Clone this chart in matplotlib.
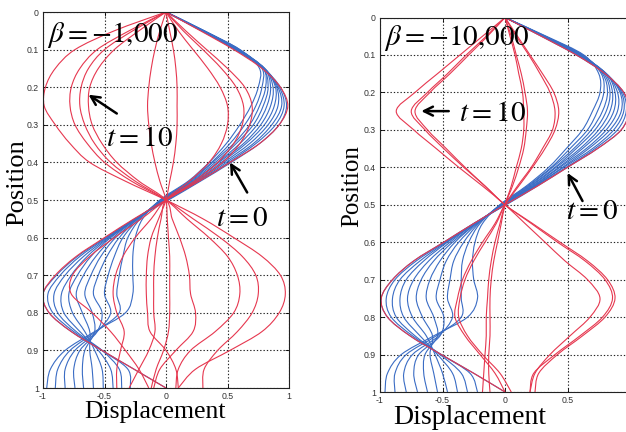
import numpy as np
import matplotlib
matplotlib.use("Agg")
import matplotlib.pyplot as plt
from matplotlib.path import Path
from matplotlib.patches import PathPatch

plt.rcParams["mathtext.fontset"] = "stix"

# Positions along the string at which every snapshot is sampled
position = [0.00, 0.05, 0.10, 0.15, 0.20, 0.25, 0.30, 0.35, 0.40, 0.45, 0.50,
            0.55, 0.60, 0.65, 0.70, 0.75, 0.80, 0.85, 0.90, 0.95, 1.00]

# ---- beta = -1,000 ----------------------------------------------------------
# Early snapshots (blue): one row per position, one column per snapshot
blue_left_by_pos = [
    [0.00, 0.00, 0.00, 0.00, 0.00, 0.00, 0.00, 0.00, 0.00, 0.00, 0.00],
    [0.29, 0.29, 0.29, 0.30, 0.30, 0.30, 0.30, 0.31, 0.31, 0.31, 0.31],
    [0.56, 0.57, 0.57, 0.58, 0.58, 0.58, 0.59, 0.59, 0.59, 0.60, 0.60],
    [0.79, 0.79, 0.80, 0.80, 0.80, 0.80, 0.80, 0.79, 0.79, 0.78, 0.76],
    [0.93, 0.92, 0.91, 0.90, 0.89, 0.87, 0.85, 0.83, 0.81, 0.78, 0.75],
    [0.98, 0.96, 0.94, 0.91, 0.88, 0.85, 0.82, 0.79, 0.76, 0.73, 0.69],
    [0.92, 0.89, 0.86, 0.83, 0.80, 0.77, 0.74, 0.71, 0.68, 0.64, 0.60],
    [0.76, 0.73, 0.71, 0.68, 0.65, 0.63, 0.60, 0.57, 0.55, 0.52, 0.49],
    [0.53, 0.51, 0.49, 0.47, 0.45, 0.43, 0.42, 0.40, 0.38, 0.37, 0.35],
    [0.28, 0.27, 0.26, 0.25, 0.24, 0.23, 0.22, 0.21, 0.20, 0.19, 0.18],
    [0.02, 0.01, 0.00, -0.01, -0.02, -0.02, -0.03, -0.03, -0.04, -0.04, -0.05],
    [-0.25, -0.25, -0.25, -0.24, -0.24, -0.24, -0.23, -0.23, -0.22, -0.21, -0.19],
    [-0.49, -0.48, -0.47, -0.46, -0.45, -0.43, -0.41, -0.38, -0.35, -0.31, -0.25],
    [-0.72, -0.70, -0.67, -0.64, -0.61, -0.57, -0.53, -0.48, -0.42, -0.35, -0.27],
    [-0.89, -0.86, -0.82, -0.77, -0.72, -0.67, -0.61, -0.55, -0.47, -0.38, -0.27],
    [-1.00, -0.96, -0.91, -0.85, -0.79, -0.73, -0.66, -0.59, -0.50, -0.40, -0.27],
    [-0.95, -0.92, -0.88, -0.83, -0.76, -0.68, -0.60, -0.52, -0.45, -0.38, -0.33],
    [-0.77, -0.75, -0.73, -0.70, -0.66, -0.62, -0.58, -0.56, -0.56, -0.57, -0.58],
    [-0.52, -0.52, -0.52, -0.55, -0.58, -0.62, -0.66, -0.70, -0.74, -0.78, -0.82],
    [-0.26, -0.31, -0.38, -0.45, -0.52, -0.60, -0.68, -0.75, -0.82, -0.88, -0.94],
    [0.00, -0.29, -0.36, -0.43, -0.51, -0.59, -0.67, -0.74, -0.82, -0.90, -0.97],
]

# Late snapshots (red): one list per snapshot
red_left = [
    [0, 0.28, 0.55, 0.78, 0.93, 0.99, 0.92, 0.76, 0.52, 0.27, 0.00,
     -0.26, -0.50, -0.73, -0.90, -1.00, -0.95, -0.77, -0.52, -0.26, 0.00],
    [0, -0.42, -0.74, -0.90, -0.98, -0.99, -0.90, -0.78, -0.62, -0.33, 0.00,
     0.30, 0.55, 0.78, 0.93, 0.97, 0.92, 0.78, 0.52, 0.24, 0.10],
    [0, -0.30, -0.56, -0.70, -0.77, -0.78, -0.74, -0.64, -0.50, -0.28, 0.00,
     0.22, 0.44, 0.62, 0.73, 0.75, 0.70, 0.58, 0.42, 0.31, 0.30],
    [0, -0.27, -0.50, -0.63, -0.69, -0.70, -0.66, -0.58, -0.45, -0.25, 0.00,
     0.17, 0.35, 0.50, 0.58, 0.60, 0.55, 0.40, 0.20, 0.10, 0.08],
    [0, -0.22, -0.42, -0.55, -0.62, -0.63, -0.60, -0.52, -0.40, -0.22, 0.00,
     0.05, 0.11, 0.16, 0.19, 0.20, 0.24, 0.22, 0.08, -0.05, -0.10],
    [0, -0.05, -0.09, -0.12, -0.14, -0.15, -0.14, -0.12, -0.09, -0.05, 0.00,
     0.01, 0.02, 0.03, 0.03, 0.03, 0.03, 0.02, -0.02, -0.08, -0.12],
    [0, 0.03, 0.06, 0.08, 0.09, 0.09, 0.09, 0.08, 0.06, 0.03, 0.00,
     -0.06, -0.12, -0.15, -0.16, -0.16, -0.15, -0.13, 0.00, 0.08, 0.10],
    [0, 0.16, 0.33, 0.50, 0.64, 0.70, 0.68, 0.60, 0.46, 0.25, 0.00,
     -0.20, -0.42, -0.62, -0.76, -0.77, -0.60, -0.45, -0.33, -0.22, -0.14],
    [0, 0.14, 0.30, 0.45, 0.57, 0.63, 0.62, 0.55, 0.42, 0.23, 0.00,
     -0.12, -0.25, -0.35, -0.41, -0.43, -0.40, -0.34, -0.37, -0.40, -0.40],
    [0, 0.10, 0.22, 0.34, 0.44, 0.50, 0.50, 0.45, 0.35, 0.19, 0.00,
     -0.04, -0.07, -0.09, -0.10, -0.10, -0.10, -0.09, -0.14, -0.22, -0.30],
]

# ---- beta = -10,000 ---------------------------------------------------------
blue_right_by_pos = [
    [0.00, 0.00, 0.00, 0.00, 0.00, 0.00, 0.00, 0.00, 0.00, 0.00, 0.00],
    [0.29, 0.30, 0.30, 0.30, 0.31, 0.31, 0.31, 0.32, 0.32, 0.32, 0.33],
    [0.57, 0.58, 0.58, 0.59, 0.60, 0.60, 0.61, 0.61, 0.62, 0.62, 0.63],
    [0.80, 0.80, 0.81, 0.81, 0.81, 0.81, 0.80, 0.79, 0.78, 0.77, 0.75],
    [0.95, 0.94, 0.93, 0.92, 0.90, 0.88, 0.86, 0.84, 0.82, 0.79, 0.76],
    [0.99, 0.97, 0.95, 0.93, 0.90, 0.87, 0.84, 0.81, 0.78, 0.74, 0.70],
    [0.93, 0.90, 0.87, 0.84, 0.81, 0.78, 0.75, 0.72, 0.69, 0.66, 0.62],
    [0.74, 0.72, 0.70, 0.67, 0.65, 0.62, 0.60, 0.57, 0.55, 0.52, 0.49],
    [0.50, 0.49, 0.47, 0.46, 0.44, 0.43, 0.41, 0.40, 0.38, 0.37, 0.35],
    [0.26, 0.25, 0.24, 0.24, 0.23, 0.22, 0.21, 0.20, 0.19, 0.18, 0.17],
    [0.01, 0.00, 0.00, -0.01, -0.01, -0.02, -0.02, -0.03, -0.03, -0.04, -0.04],
    [-0.25, -0.25, -0.24, -0.24, -0.24, -0.23, -0.23, -0.22, -0.21, -0.20, -0.18],
    [-0.49, -0.48, -0.47, -0.46, -0.44, -0.42, -0.40, -0.37, -0.33, -0.29, -0.24],
    [-0.73, -0.71, -0.68, -0.65, -0.61, -0.57, -0.52, -0.47, -0.41, -0.34, -0.26],
    [-0.90, -0.88, -0.84, -0.79, -0.73, -0.67, -0.60, -0.52, -0.44, -0.35, -0.25],
    [-0.99, -0.95, -0.90, -0.84, -0.78, -0.71, -0.63, -0.55, -0.46, -0.35, -0.22],
    [-0.94, -0.91, -0.87, -0.81, -0.74, -0.66, -0.57, -0.49, -0.42, -0.35, -0.30],
    [-0.76, -0.74, -0.72, -0.68, -0.63, -0.58, -0.54, -0.52, -0.53, -0.55, -0.57],
    [-0.51, -0.51, -0.52, -0.54, -0.56, -0.60, -0.64, -0.69, -0.74, -0.79, -0.83],
    [-0.25, -0.28, -0.35, -0.42, -0.50, -0.57, -0.65, -0.73, -0.81, -0.88, -0.94],
    [0.00, -0.22, -0.30, -0.38, -0.46, -0.54, -0.62, -0.70, -0.79, -0.88, -0.96],
]

red_right = [
    [0, 0.29, 0.57, 0.80, 0.95, 0.99, 0.93, 0.74, 0.50, 0.26, 0.00,
     -0.25, -0.49, -0.73, -0.90, -0.99, -0.94, -0.76, -0.51, -0.25, 0.00],
    [0, -0.18, -0.36, -0.54, -0.72, -0.87, -0.73, -0.55, -0.37, -0.18, 0.00,
     0.16, 0.32, 0.48, 0.66, 0.76, 0.68, 0.52, 0.36, 0.24, 0.20],
    [0, -0.15, -0.31, -0.46, -0.62, -0.75, -0.64, -0.49, -0.33, -0.16, 0.00,
     0.22, 0.44, 0.66, 0.82, 0.88, 0.80, 0.62, 0.42, 0.27, 0.24],
    [0, -0.14, -0.29, -0.44, -0.60, -0.72, -0.62, -0.47, -0.32, -0.16, 0.00,
     0.21, 0.42, 0.64, 0.80, 0.86, 0.78, 0.60, 0.40, 0.23, 0.20],
    [0, 0.10, 0.20, 0.30, 0.39, 0.43, 0.40, 0.32, 0.22, 0.11, 0.00,
     -0.08, -0.18, -0.27, -0.34, -0.38, -0.40, -0.32, -0.20, -0.08, 0.00],
    [0, 0.09, 0.19, 0.28, 0.36, 0.40, 0.38, 0.30, 0.21, 0.10, 0.00,
     -0.07, -0.16, -0.25, -0.32, -0.36, -0.37, -0.30, -0.18, -0.04, 0.05],
    [0, 0.05, 0.09, 0.13, 0.16, 0.18, 0.17, 0.15, 0.11, 0.06, 0.00,
     -0.04, -0.08, -0.11, -0.13, -0.14, -0.15, -0.15, -0.16, -0.17, -0.18],
    [0, 0.04, 0.08, 0.11, 0.14, 0.15, 0.15, 0.13, 0.09, 0.05, 0.00,
     -0.03, -0.06, -0.09, -0.11, -0.12, -0.12, -0.12, -0.13, -0.13, -0.12],
]

x_ticks = [-1, -0.5, 0, 0.5, 1]
x_tick_labels = ["-1", "-0.5", "0", "0.5", "1"]
y_ticks = [0, 0.1, 0.2, 0.3, 0.4, 0.5, 0.6, 0.7, 0.8, 0.9, 1.0]
y_tick_labels = ["0", "0.1", "0.2", "0.3", "0.4", "0.5", "0.6", "0.7", "0.8", "0.9", "1"]

BLUE = "#3a6cc4"
RED = "#e6374f"
SERIF = "Liberation Serif"

W, H = 626, 432
fig = plt.figure(figsize=(W / 100, H / 100), dpi=100)
fig.patch.set_facecolor("white")


def px_axes(left, top, right, bottom):
    return fig.add_axes([left / W, 1 - bottom / H, (right - left) / W, (bottom - top) / H])


def style_axes(ax, xlabels):
    ax.set_xlim(-1, 1)
    ax.set_ylim(1, 0)
    ax.set_xticks(x_ticks)
    ax.set_xticklabels(xlabels)
    ax.set_yticks(y_ticks)
    ax.set_yticklabels(y_tick_labels)
    ax.tick_params(direction="in", length=3, width=0.6, top=True, right=True,
                   labelsize=6.3, labelcolor="#333333", pad=3)
    for lab in ax.get_xticklabels() + ax.get_yticklabels():
        lab.set_fontfamily("Liberation Sans")
    ax.grid(True, color="#222222", linestyle=(0, (1.2, 1.8)), linewidth=0.8)
    ax.set_axisbelow(True)
    for s in ax.spines.values():
        s.set_linewidth(0.8)
        s.set_color("#222222")


def smooth_path(xs, ys):
    """Cubic (Catmull-Rom style) path running through every sampled point."""
    pts = np.column_stack([xs, ys]).astype(float)
    n = len(pts)
    verts = [pts[0]]
    codes = [Path.MOVETO]
    for i in range(n - 1):
        p0 = pts[max(i - 1, 0)]
        p1 = pts[i]
        p2 = pts[i + 1]
        p3 = pts[min(i + 2, n - 1)]
        c1 = p1 + (p2 - p0) / 6.0
        c2 = p2 - (p3 - p1) / 6.0
        verts += [c1, c2, p2]
        codes += [Path.CURVE4] * 3
    return Path(verts, codes)


def draw_curves(ax, blue_by_pos, reds):
    pos = np.asarray(position)
    blue = np.asarray(blue_by_pos).T
    for curve in blue:
        ax.add_patch(PathPatch(smooth_path(curve, pos), fill=False,
                               edgecolor=BLUE, lw=0.8))
    for curve in reds:
        ax.add_patch(PathPatch(smooth_path(curve, pos), fill=False,
                               edgecolor=RED, lw=0.8))


arrow_kw = dict(arrowstyle="->", lw=1.8, color="black", mutation_scale=16,
                shrinkA=0, shrinkB=0)

# Left panel
axL = px_axes(43, 12, 289, 388)
style_axes(axL, x_tick_labels)
draw_curves(axL, blue_left_by_pos, red_left)
axL.text(-0.97, 0.06, r"$\beta=-1{,}000$", fontsize=21, ha="left", va="center")
axL.text(-0.49, 0.335, r"$t=10$", fontsize=21, ha="left", va="center")
axL.text(0.41, 0.548, r"$t=0$", fontsize=21, ha="left", va="center")
axL.annotate("", xy=(-0.63, 0.22), xytext=(-0.40, 0.27), arrowprops=arrow_kw)
axL.annotate("", xy=(0.52, 0.40), xytext=(0.66, 0.48), arrowprops=arrow_kw)

# Right panel (its right edge runs past the border of the figure)
axR = px_axes(380, 17.5, 630, 392)
style_axes(axR, x_tick_labels[:-1] + [""])
draw_curves(axR, blue_right_by_pos, red_right)
axR.text(-0.97, 0.055, r"$\beta=-10{,}000$", fontsize=21, ha="left", va="center")
axR.text(-0.37, 0.255, r"$t=10$", fontsize=21, ha="left", va="center")
axR.text(0.49, 0.518, r"$t=0$", fontsize=21, ha="left", va="center")
axR.annotate("", xy=(-0.67, 0.25), xytext=(-0.45, 0.25), arrowprops=arrow_kw)
axR.annotate("", xy=(0.50, 0.415), xytext=(0.62, 0.49), arrowprops=arrow_kw)

# Axis titles
fig.text(17 / W, 1 - 183 / H, "Position", rotation=90, fontsize=19,
         family=SERIF, ha="center", va="center")
fig.text(155 / W, 1 - 412 / H, "Displacement", fontsize=18.5,
         family=SERIF, ha="center", va="center")
fig.text(352 / W, 1 - 186 / H, "Position", rotation=90, fontsize=18,
         family=SERIF, ha="center", va="center")
fig.text(470 / W, 1 - 418 / H, "Displacement", fontsize=20,
         family=SERIF, ha="center", va="center")

fig.savefig("out.png", dpi=100, facecolor="white")
